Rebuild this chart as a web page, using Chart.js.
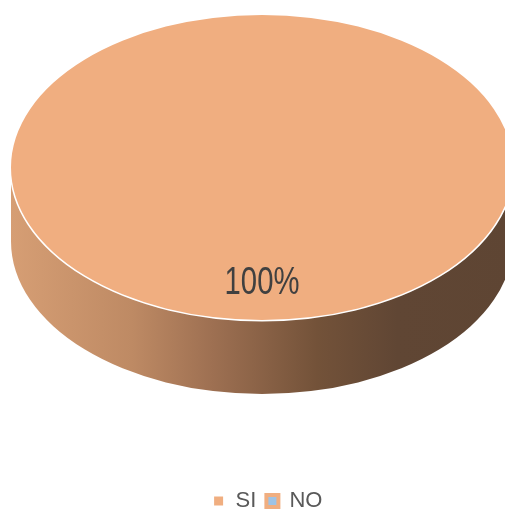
<!DOCTYPE html>
<html>
<head>
<meta charset="utf-8">
<script src="https://cdn.jsdelivr.net/npm/chart.js@4.4.1/dist/chart.umd.min.js"></script>
<style>
  html, body { margin: 0; padding: 0; background: #fff; }
  #wrap { width: 505px; height: 516px; }
</style>
</head>
<body>
<div id="wrap"><canvas id="pie" width="505" height="516"></canvas></div>
<script>
// answers
const categories = ['SI', 'NO']
const values = [100, 0]

const sliceColors = ['#F0AE80', '#9DC3E6']

// tilted disc placement and thickness
const disc = { cx: 262, cy: 167.5, rx: 251, ry: 152.5, depth: 74 }
const labelFont = '39px "Liberation Sans", Arial, sans-serif'

function sideGradient(ctx) {
  const g = ctx.createLinearGradient(disc.cx - disc.rx, 0, disc.cx + disc.rx, 0)
  g.addColorStop(0, '#D69E74')
  g.addColorStop(0.24, '#BE8A64')
  g.addColorStop(0.40, '#9E7052')
  g.addColorStop(0.61, '#735239')
  g.addColorStop(0.77, '#604634')
  g.addColorStop(1, '#5E4533')
  return g
}

// part of [a0,a1] that faces the viewer (0..PI, going round the bottom)
function frontPart(a0, a1) {
  const parts = []
  for (let k = -1; k <= 1; k++) {
    const lo = Math.max(a0, k * 2 * Math.PI)
    const hi = Math.min(a1, k * 2 * Math.PI + Math.PI)
    if (hi > lo) parts.push([lo, hi])
  }
  return parts
}

const tiltPlugin = {
  id: 'tilt',
  beforeDatasetsDraw(chart) {
    const ctx = chart.ctx
    const arcs = chart.getDatasetMeta(0).data
    // walls of the disc, under the top face
    arcs.forEach(arc => {
      if (arc.circumference <= 0) return
      frontPart(arc.startAngle, arc.endAngle).forEach(([lo, hi]) => {
        ctx.save()
        ctx.beginPath()
        ctx.ellipse(disc.cx, disc.cy, disc.rx, disc.ry, 0, lo, hi)
        ctx.ellipse(disc.cx, disc.cy + disc.depth, disc.rx, disc.ry, 0, hi, lo, true)
        ctx.closePath()
        ctx.fillStyle = sideGradient(ctx)
        ctx.fill()
        ctx.beginPath()
        ctx.ellipse(disc.cx, disc.cy, disc.rx, disc.ry, 0, lo, hi)
        ctx.strokeStyle = '#ffffff'
        ctx.lineWidth = 3
        ctx.stroke()
        ctx.restore()
      })
    })
    // squash the round pie into the top face
    const a = arcs[0]
    const r = a.outerRadius
    ctx.save()
    ctx.translate(disc.cx, disc.cy)
    ctx.scale(disc.rx / r, disc.ry / r)
    ctx.translate(-a.x, -a.y)
  },
  afterDatasetsDraw(chart) {
    const ctx = chart.ctx
    ctx.restore()
    const total = values.reduce((s, v) => s + v, 0)
    chart.getDatasetMeta(0).data.forEach((arc, i) => {
      if (!values[i]) return
      const mid = (arc.startAngle + arc.endAngle) / 2
      const x = disc.cx + Math.cos(mid) * disc.rx * 0.76
      const y = disc.cy + Math.sin(mid) * disc.ry * 0.76
      ctx.save()
      // narrow, tall lettering
      ctx.translate(x, y)
      ctx.scale(0.75, 1)
      ctx.font = labelFont
      ctx.fillStyle = '#404040'
      ctx.textAlign = 'center'
      ctx.textBaseline = 'middle'
      ctx.fillText(Math.round(values[i] / total * 100) + '%', 0, 0)
      ctx.restore()
    })
  }
}

new Chart(document.getElementById('pie'), {
  type: 'pie',
  data: {
    labels: categories,
    datasets: [{
      data: values,
      backgroundColor: sliceColors,
      borderWidth: 0,
      hoverOffset: 0
    }]
  },
  options: {
    responsive: false,
    animation: false,
    devicePixelRatio: 1,
    layout: { padding: { left: 30, right: 0, top: 0, bottom: -6 } },
    plugins: {
      tooltip: { enabled: false },
      legend: {
        position: 'bottom',
        labels: {
          boxWidth: 12,
          boxHeight: 12,
          padding: 10,
          color: '#595959',
          font: { family: '"Liberation Sans", Arial, sans-serif', size: 22 },
          generateLabels: chart => {
            const items = Chart.overrides.pie.plugins.legend.labels.generateLabels(chart)
            items.forEach((item, i) => {
              item.fillStyle = sliceColors[i]
              // SI gets a thin white rim, NO an orange frame
              item.strokeStyle = i === 0 ? '#ffffff' : sliceColors[0]
              item.lineWidth = i === 0 ? 3 : 4
            })
            return items
          }
        }
      }
    }
  },
  plugins: [tiltPlugin]
})
</script>
</body>
</html>
